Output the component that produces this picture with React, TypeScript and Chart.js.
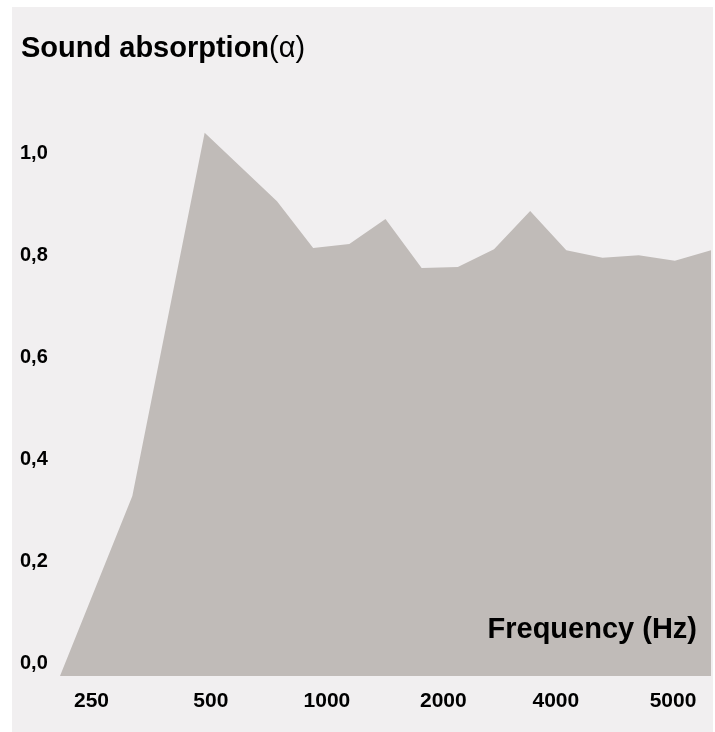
import React, { useEffect, useRef } from "react";
import { Chart, registerables } from "chart.js";

Chart.register(...registerables);

// ---- data ----
const bandIndex = [0, 2, 4, 6, 7, 8, 9, 10, 11, 12, 13, 14, 15, 16, 17, 18];
const absorption = [0, 0.353, 1.065, 0.931, 0.839, 0.847, 0.896, 0.8, 0.802, 0.837, 0.912, 0.835, 0.82, 0.825, 0.814, 0.835];
const freqLabels = ["250", "500", "1000", "2000", "4000", "5000"];
const freqLabelAt = [0.87, 4.17, 7.38, 10.6, 13.71, 16.95];
const yTickValues = [0, 0.2, 0.4, 0.6, 0.8, 1.0];
const titleBold = "Sound absorption";
const titleRest = "(α)";
const xAxisTitle = "Frequency (Hz)";

const FONT = "'Liberation Sans', Arial, Helvetica, sans-serif";
const BG = "#f1eff0";
const AREA = "#c0bbb8";

const textPlugin = {
  id: "customTexts",
  afterDraw(chart: any) {
    const { ctx, chartArea } = chart;
    ctx.save();
    ctx.fillStyle = "#000";
    ctx.textBaseline = "alphabetic";
    ctx.textAlign = "left";
    ctx.font = `bold 29px ${FONT}`;
    ctx.fillText(titleBold, 9, 50);
    const w = ctx.measureText(titleBold).width;
    ctx.font = `29px ${FONT}`;
    ctx.fillText(titleRest, 9 + w, 50);
    ctx.font = `bold 29px ${FONT}`;
    ctx.textAlign = "right";
    ctx.fillText(xAxisTitle, chartArea.right - 14, chartArea.bottom - 38);
    ctx.restore();
  },
};

export default function App() {
  const ref = useRef<HTMLCanvasElement | null>(null);
  useEffect(() => {
    if (!ref.current) return;
    const chart = new Chart(ref.current, {
      type: "line",
      data: {
        datasets: [
          {
            data: bandIndex.map((x, i) => ({ x, y: absorption[i] })),
            fill: "origin",
            backgroundColor: AREA,
            borderWidth: 0,
            borderColor: AREA,
            pointRadius: 0,
            tension: 0,
          },
        ],
      },
      options: {
        animation: false,
        responsive: true,
        maintainAspectRatio: false,
        layout: { padding: { left: 8, right: 2, top: 57, bottom: 0 } },
        plugins: { legend: { display: false }, tooltip: { enabled: false }, title: { display: false } },
        scales: {
          x: {
            type: "linear",
            min: 0,
            max: 18,
            grid: { display: false, drawTicks: false },
            border: { display: false },
            afterBuildTicks: (scale: any) => {
              scale.ticks = freqLabelAt.map((v) => ({ value: v }));
            },
            afterFit: (scale: any) => {
              scale.height = 56;
            },
            ticks: {
              autoSkip: false,
              maxRotation: 0,
              padding: 13,
              color: "#000",
              font: { family: FONT, size: 21, weight: "bold" },
              callback: (_v: any, i: number) => freqLabels[i],
            },
          },
          y: {
            min: 0,
            max: 1.2,
            grid: { display: false, drawTicks: false },
            border: { display: false },
            afterBuildTicks: (scale: any) => {
              scale.ticks = yTickValues.map((v) => ({ value: v }));
            },
            afterFit: (scale: any) => {
              scale.width = 40;
            },
            ticks: {
              crossAlign: "far",
              labelOffset: -13,
              color: "#000",
              font: { family: FONT, size: 20, weight: "bold" },
              callback: (v: any) => Number(v).toFixed(1).replace(".", ","),
            },
          },
        },
      },
      plugins: [textPlugin],
    });
    return () => chart.destroy();
  }, []);

  return (
    <div
      style={{
        position: "absolute",
        left: 12,
        top: 7,
        width: 701,
        height: 725,
        background: BG,
      }}
    >
      <canvas ref={ref} />
    </div>
  );
}
